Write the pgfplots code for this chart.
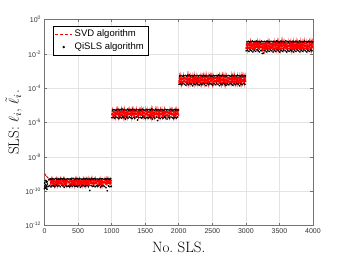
\documentclass[border=0pt]{standalone}
\usepackage{pgfplots}
\pgfplotsset{compat=1.18}
\usepackage{fontspec}
\newfontfamily\arial{Liberation Sans}
\definecolor{axgray}{gray}{0.45}
\begin{document}
\begin{tikzpicture}
\begin{axis}[
  scale only axis, width=268.5pt, height=206pt,
  ymode=log, xmin=0, xmax=4000, ymin=1e-12, ymax=1,
  xtick={0,500,1000,1500,2000,2500,3000,3500,4000},
  xticklabels={0,500,1000,1500,2000,2500,3000,3500,4000},
  ytick={1e-12,1e-10,1e-8,1e-6,1e-4,1e-2,1},
  yticklabels={10\textsuperscript{-12},10\textsuperscript{-10},10\textsuperscript{-8},10\textsuperscript{-6},10\textsuperscript{-4},10\textsuperscript{-2},10\textsuperscript{0}},
  minor y tick num=0, yminorticks=false,
  tick label style={font=\arial\fontsize{7}{8}\selectfont, text=black!80},
  grid=major, major grid style={gray!22, line width=0.5pt},
  axis line style={axgray, line width=0.6pt},
  tick style={axgray, line width=0.5pt}, tick align=inside, major tick length=2.5pt,
  xlabel={No.\ SLS.}, ylabel={SLS: $\ell_i$, $\tilde{\ell}_i$.},
  label style={font=\fontsize{15}{18}\selectfont},
  xlabel style={at={(axis description cs:0.5,-0.108)}, anchor=center},
  ylabel style={at={(axis description cs:-0.115,0.5)}, anchor=center},
  legend style={at={(0.03,0.97)}, anchor=north west, font=\arial\fontsize{9.5}{11}\selectfont, draw=black, line width=0.5pt, inner sep=2pt, row sep=0.5pt},
  legend cell align=left,
]
\addlegendimage{red, densely dashed, line width=0.8pt}
\addlegendentry{SVD algorithm}
\addlegendimage{black, only marks, mark=*, mark size=0.9pt}
\addlegendentry{QiSLS algorithm}
% QiSLS (black dots)
\addplot[black, only marks, mark=*, mark size=0.65pt, forget plot] table {
0 1.4e-10
2 3.0e-10
8 1.6e-10
12 4.2e-10
18 2.4e-10
22 1.5e-10
28 3.3e-10
32 2.0e-10
38 1.3e-10
42 3.6e-10
5 2.0e-10
15 1.7e-10
25 3.9e-10
35 1.8e-10
45 2.6e-10
55 1.9e-10
65 4.6e-10
75 2.1e-10
85 5.2e-10
95 1.8e-10
105 5.0e-10
115 2.1e-10
125 5.3e-10
135 2.0e-10
145 4.9e-10
155 1.8e-10
165 5.4e-10
175 2.2e-10
185 5.0e-10
195 1.9e-10
205 5.2e-10
215 2.1e-10
225 4.9e-10
235 1.8e-10
245 5.5e-10
255 2.2e-10
265 5.1e-10
275 2.0e-10
285 5.4e-10
295 1.7e-10
305 5.0e-10
315 2.1e-10
325 4.9e-10
335 1.9e-10
345 5.3e-10
355 2.0e-10
365 5.0e-10
375 1.8e-10
385 5.2e-10
395 2.1e-10
405 5.1e-10
415 1.9e-10
425 5.6e-10
435 2.2e-10
445 4.9e-10
455 1.9e-10
465 5.2e-10
475 2.0e-10
485 5.4e-10
495 1.8e-10
505 5.0e-10
515 2.1e-10
525 5.5e-10
535 1.7e-10
545 5.1e-10
555 2.0e-10
565 4.9e-10
575 2.2e-10
585 5.3e-10
595 1.9e-10
605 5.1e-10
615 2.0e-10
625 5.4e-10
635 2.1e-10
645 5.0e-10
655 1.8e-10
665 5.2e-10
675 1.1e-10
685 4.9e-10
695 2.1e-10
705 5.3e-10
715 1.9e-10
725 5.1e-10
735 2.0e-10
745 5.5e-10
755 1.8e-10
765 5.0e-10
775 2.1e-10
785 5.2e-10
795 1.9e-10
805 4.9e-10
815 2.2e-10
825 5.4e-10
835 1.7e-10
845 5.1e-10
855 2.0e-10
865 5.3e-10
875 2.1e-10
885 4.9e-10
895 1.9e-10
905 5.2e-10
915 1.6e-10
925 5.0e-10
935 1.05e-10
945 5.4e-10
955 2.0e-10
965 5.0e-10
975 1.8e-10
985 5.3e-10
995 1.9e-10
};
\addplot[black, only marks, mark=*, mark size=0.65pt, forget plot] table {
1005 1.9e-6
1015 5.3e-6
1025 2.0e-6
1035 5.6e-6
1045 1.8e-6
1055 5.2e-6
1065 2.1e-6
1075 5.5e-6
1085 1.9e-6
1095 5.8e-6
1105 1.7e-6
1115 5.3e-6
1125 2.0e-6
1135 5.6e-6
1145 1.8e-6
1155 6.1e-6
1165 2.1e-6
1175 5.4e-6
1185 1.9e-6
1195 5.7e-6
1205 1.6e-6
1215 5.2e-6
1225 2.0e-6
1235 5.9e-6
1245 1.8e-6
1255 5.4e-6
1265 2.1e-6
1275 5.6e-6
1285 1.9e-6
1295 5.3e-6
1305 1.7e-6
1315 5.8e-6
1325 2.0e-6
1335 5.5e-6
1345 1.8e-6
1355 5.2e-6
1365 2.1e-6
1375 5.7e-6
1385 1.4e-6
1395 5.4e-6
1405 1.9e-6
1415 5.6e-6
1425 2.0e-6
1435 5.3e-6
1445 1.8e-6
1455 5.9e-6
1465 2.1e-6
1475 5.5e-6
1485 1.9e-6
1495 5.2e-6
1505 1.7e-6
1515 5.7e-6
1525 2.0e-6
1535 5.4e-6
1545 1.8e-6
1555 5.6e-6
1565 2.1e-6
1575 5.3e-6
1585 1.9e-6
1595 6.0e-6
1605 1.6e-6
1615 5.5e-6
1625 2.0e-6
1635 5.2e-6
1645 1.8e-6
1655 5.8e-6
1665 2.1e-6
1675 5.4e-6
1685 1.3e-6
1695 5.6e-6
1705 1.9e-6
1715 5.3e-6
1725 1.7e-6
1735 5.7e-6
1745 2.0e-6
1755 5.5e-6
1765 1.8e-6
1775 5.2e-6
1785 2.1e-6
1795 5.9e-6
1805 1.9e-6
1815 5.4e-6
1825 1.6e-6
1835 5.6e-6
1845 2.0e-6
1855 5.3e-6
1865 1.8e-6
1875 5.8e-6
1885 2.1e-6
1895 5.5e-6
1905 1.9e-6
1915 5.2e-6
1925 1.7e-6
1935 5.7e-6
1945 2.0e-6
1955 5.4e-6
1965 1.8e-6
1975 5.6e-6
1985 2.1e-6
1995 5.3e-6
};
\addplot[black, only marks, mark=*, mark size=0.65pt, forget plot] table {
2005 1.7e-4
2015 5.1e-4
2025 1.8e-4
2035 5.4e-4
2045 1.6e-4
2055 5.0e-4
2065 1.9e-4
2075 5.3e-4
2085 1.7e-4
2095 5.6e-4
2105 1.5e-4
2115 5.1e-4
2125 1.8e-4
2135 5.4e-4
2145 1.6e-4
2155 5.8e-4
2165 1.9e-4
2175 5.2e-4
2185 1.7e-4
2195 5.5e-4
2205 1.4e-4
2215 5.0e-4
2225 1.8e-4
2235 5.7e-4
2245 1.6e-4
2255 5.2e-4
2265 1.9e-4
2275 5.4e-4
2285 1.7e-4
2295 5.1e-4
2305 1.5e-4
2315 5.6e-4
2325 1.8e-4
2335 5.3e-4
2345 1.6e-4
2355 5.0e-4
2365 1.9e-4
2375 5.5e-4
2385 1.7e-4
2395 5.2e-4
2405 1.4e-4
2415 5.4e-4
2425 1.8e-4
2435 5.1e-4
2445 1.6e-4
2455 5.7e-4
2465 1.9e-4
2475 5.3e-4
2485 1.7e-4
2495 5.0e-4
2505 1.5e-4
2515 5.5e-4
2525 1.8e-4
2535 5.2e-4
2545 1.6e-4
2555 5.4e-4
2565 1.9e-4
2575 5.1e-4
2585 1.7e-4
2595 5.8e-4
2605 1.4e-4
2615 5.3e-4
2625 1.8e-4
2635 5.0e-4
2645 1.6e-4
2655 5.6e-4
2665 1.9e-4
2675 5.2e-4
2685 1.7e-4
2695 5.4e-4
2705 1.5e-4
2715 5.1e-4
2725 1.8e-4
2735 5.5e-4
2745 1.6e-4
2755 5.3e-4
2765 1.9e-4
2775 5.0e-4
2785 1.7e-4
2795 5.7e-4
2805 1.5e-4
2815 5.2e-4
2825 1.8e-4
2835 5.4e-4
2845 1.6e-4
2855 5.1e-4
2865 1.9e-4
2875 5.6e-4
2885 1.7e-4
2895 5.3e-4
2905 1.4e-4
2915 5.0e-4
2925 1.8e-4
2935 5.5e-4
2945 1.6e-4
2955 5.2e-4
2965 1.9e-4
2975 5.4e-4
2985 1.7e-4
2995 5.1e-4
};
\addplot[black, only marks, mark=*, mark size=0.65pt, forget plot] table {
3005 1.5e-2
3015 5.0e-2
3025 1.6e-2
3035 5.3e-2
3045 1.4e-2
3055 4.9e-2
3065 1.7e-2
3075 5.2e-2
3085 1.5e-2
3095 5.5e-2
3105 1.3e-2
3115 5.0e-2
3125 1.6e-2
3135 5.3e-2
3145 1.4e-2
3155 5.6e-2
3165 1.7e-2
3175 5.1e-2
3185 1.5e-2
3195 5.4e-2
3205 1.3e-2
3215 4.9e-2
3225 1.6e-2
3235 5.5e-2
3245 1.05e-2
3255 5.1e-2
3265 1.1e-2
3275 5.3e-2
3285 1.5e-2
3295 5.0e-2
3305 1.3e-2
3315 5.5e-2
3325 1.6e-2
3335 5.2e-2
3345 1.4e-2
3355 4.9e-2
3365 1.7e-2
3375 5.4e-2
3385 1.5e-2
3395 5.1e-2
3405 1.3e-2
3415 5.3e-2
3425 1.6e-2
3435 5.0e-2
3445 1.4e-2
3455 5.6e-2
3465 1.7e-2
3475 5.2e-2
3485 1.5e-2
3495 4.9e-2
3505 1.3e-2
3515 5.4e-2
3525 1.6e-2
3535 5.1e-2
3545 1.4e-2
3555 5.3e-2
3565 1.7e-2
3575 5.0e-2
3585 1.5e-2
3595 5.7e-2
3605 1.3e-2
3615 5.2e-2
3625 1.6e-2
3635 4.9e-2
3645 1.4e-2
3655 5.5e-2
3665 1.7e-2
3675 5.1e-2
3685 1.5e-2
3695 5.3e-2
3705 1.3e-2
3715 5.0e-2
3725 1.6e-2
3735 5.4e-2
3745 1.4e-2
3755 5.2e-2
3765 1.7e-2
3775 4.9e-2
3785 1.5e-2
3795 5.6e-2
3805 1.3e-2
3815 5.1e-2
3825 1.6e-2
3835 5.3e-2
3845 1.4e-2
3855 5.0e-2
3865 1.7e-2
3875 5.5e-2
3885 1.5e-2
3895 5.2e-2
3905 1.3e-2
3915 4.9e-2
3925 1.6e-2
3935 5.4e-2
3945 1.4e-2
3955 5.1e-2
3965 1.7e-2
3975 5.3e-2
3985 1.5e-2
3995 5.0e-2
};
% SVD (red dashed)
\addplot[red, dash pattern=on 2.5pt off 0.8pt, line width=1.1pt, forget plot] table {
0 1.05e-9
10 9.4e-10
20 8.2e-10
30 7.4e-10
40 6.6e-10
50 6.0e-10
60 5.4e-10
70 5.0e-10
80 4.6e-10
90 3.0e-10
100 4.8e-10
110 2.4e-10
120 4.5e-10
130 2.7e-10
140 4.6e-10
150 2.3e-10
160 4.3e-10
170 2.6e-10
180 4.7e-10
190 2.4e-10
200 4.6e-10
210 2.8e-10
220 4.2e-10
230 2.3e-10
240 4.6e-10
250 2.5e-10
260 4.4e-10
270 2.7e-10
280 4.7e-10
290 2.3e-10
300 4.5e-10
310 2.6e-10
320 4.1e-10
330 2.4e-10
340 4.6e-10
350 2.8e-10
360 4.3e-10
370 2.3e-10
380 4.7e-10
390 2.5e-10
400 4.4e-10
410 2.3e-10
420 4.7e-10
430 2.7e-10
440 4.2e-10
450 2.3e-10
460 4.6e-10
470 2.6e-10
480 4.7e-10
490 2.4e-10
500 4.3e-10
510 2.8e-10
520 4.6e-10
530 2.3e-10
540 4.5e-10
550 2.5e-10
560 4.1e-10
570 2.3e-10
580 4.7e-10
590 2.7e-10
600 4.4e-10
610 2.3e-10
620 4.7e-10
630 2.6e-10
640 4.3e-10
650 2.4e-10
660 4.6e-10
670 2.0e-10
680 4.2e-10
690 2.5e-10
700 4.7e-10
710 2.3e-10
720 4.5e-10
730 2.7e-10
740 4.1e-10
750 2.3e-10
760 4.6e-10
770 2.6e-10
780 4.4e-10
790 2.4e-10
800 4.7e-10
810 2.8e-10
820 4.3e-10
830 2.3e-10
840 4.7e-10
850 2.5e-10
860 4.6e-10
870 2.3e-10
880 4.2e-10
890 2.7e-10
900 4.7e-10
910 2.3e-10
920 4.4e-10
930 2.1e-10
940 4.5e-10
950 2.6e-10
960 4.6e-10
970 2.4e-10
980 4.3e-10
990 2.7e-10
1000 4.6e-10
};
\addplot[red, dash pattern=on 2.5pt off 0.8pt, line width=1.1pt, forget plot] table {
1000 2.6e-6
1010 4.8e-6
1020 2.3e-6
1030 5.0e-6
1040 2.5e-6
1050 4.6e-6
1060 2.2e-6
1070 4.9e-6
1080 2.6e-6
1090 5.1e-6
1100 2.3e-6
1110 4.7e-6
1120 2.4e-6
1130 5.0e-6
1140 2.2e-6
1150 5.2e-6
1160 2.6e-6
1170 4.8e-6
1180 2.3e-6
1190 5.0e-6
1200 2.1e-6
1210 4.6e-6
1220 2.5e-6
1230 5.1e-6
1240 2.3e-6
1250 4.8e-6
1260 2.6e-6
1270 5.0e-6
1280 2.4e-6
1290 4.7e-6
1300 2.2e-6
1310 5.1e-6
1320 2.5e-6
1330 4.9e-6
1340 2.3e-6
1350 4.6e-6
1360 2.6e-6
1370 5.0e-6
1380 1.8e-6
1390 4.8e-6
1400 2.4e-6
1410 5.0e-6
1420 2.5e-6
1430 4.7e-6
1440 2.3e-6
1450 5.2e-6
1460 2.6e-6
1470 4.9e-6
1480 2.4e-6
1490 4.6e-6
1500 2.2e-6
1510 5.0e-6
1520 2.5e-6
1530 4.8e-6
1540 2.3e-6
1550 5.0e-6
1560 2.6e-6
1570 4.7e-6
1580 2.4e-6
1590 5.2e-6
1600 2.1e-6
1610 4.9e-6
1620 2.5e-6
1630 4.6e-6
1640 2.3e-6
1650 5.1e-6
1660 2.6e-6
1670 4.8e-6
1680 1.9e-6
1690 5.0e-6
1700 2.4e-6
1710 4.7e-6
1720 2.2e-6
1730 5.0e-6
1740 2.5e-6
1750 4.9e-6
1760 2.3e-6
1770 4.6e-6
1780 2.6e-6
1790 5.2e-6
1800 2.4e-6
1810 4.8e-6
1820 2.1e-6
1830 5.0e-6
1840 2.5e-6
1850 4.7e-6
1860 2.3e-6
1870 5.1e-6
1880 2.6e-6
1890 4.9e-6
1900 2.4e-6
1910 4.6e-6
1920 2.2e-6
1930 5.0e-6
1940 2.5e-6
1950 4.8e-6
1960 2.3e-6
1970 5.0e-6
1980 2.6e-6
1990 4.7e-6
2000 2.4e-6
};
\addplot[red, dash pattern=on 2.5pt off 0.8pt, line width=1.1pt, forget plot] table {
2000 2.1e-4
2010 4.5e-4
2020 2.2e-4
2030 4.8e-4
2040 2.0e-4
2050 4.4e-4
2060 2.3e-4
2070 4.7e-4
2080 2.1e-4
2090 4.9e-4
2100 1.9e-4
2110 4.5e-4
2120 2.2e-4
2130 4.8e-4
2140 2.0e-4
2150 5.0e-4
2160 2.3e-4
2170 4.6e-4
2180 2.1e-4
2190 4.8e-4
2200 1.8e-4
2210 4.4e-4
2220 2.2e-4
2230 4.9e-4
2240 2.0e-4
2250 4.6e-4
2260 2.3e-4
2270 4.8e-4
2280 2.1e-4
2290 4.5e-4
2300 1.9e-4
2310 4.9e-4
2320 2.2e-4
2330 4.7e-4
2340 2.0e-4
2350 4.4e-4
2360 2.3e-4
2370 4.8e-4
2380 2.1e-4
2390 4.6e-4
2400 1.8e-4
2410 4.8e-4
2420 2.2e-4
2430 4.5e-4
2440 2.0e-4
2450 4.9e-4
2460 2.3e-4
2470 4.7e-4
2480 2.1e-4
2490 4.4e-4
2500 1.9e-4
2510 4.8e-4
2520 2.2e-4
2530 4.6e-4
2540 2.0e-4
2550 4.8e-4
2560 2.3e-4
2570 4.5e-4
2580 2.1e-4
2590 5.0e-4
2600 1.8e-4
2610 4.7e-4
2620 2.2e-4
2630 4.4e-4
2640 2.0e-4
2650 4.9e-4
2660 2.3e-4
2670 4.6e-4
2680 2.1e-4
2690 4.8e-4
2700 1.9e-4
2710 4.5e-4
2720 2.2e-4
2730 4.8e-4
2740 2.0e-4
2750 4.7e-4
2760 2.3e-4
2770 4.4e-4
2780 2.1e-4
2790 4.9e-4
2800 1.9e-4
2810 4.6e-4
2820 2.2e-4
2830 4.8e-4
2840 2.0e-4
2850 4.5e-4
2860 2.3e-4
2870 4.9e-4
2880 2.1e-4
2890 4.7e-4
2900 1.8e-4
2910 4.4e-4
2920 2.2e-4
2930 4.8e-4
2940 2.0e-4
2950 4.6e-4
2960 2.3e-4
2970 4.8e-4
2980 2.1e-4
2990 4.5e-4
3000 2.2e-4
};
\addplot[red, dash pattern=on 2.5pt off 0.8pt, line width=1.1pt, forget plot] table {
3000 1.9e-2
3010 4.4e-2
3020 2.0e-2
3030 4.7e-2
3040 1.8e-2
3050 4.3e-2
3060 2.1e-2
3070 4.6e-2
3080 1.9e-2
3090 4.8e-2
3100 1.7e-2
3110 4.4e-2
3120 2.0e-2
3130 4.7e-2
3140 1.8e-2
3150 4.9e-2
3160 2.1e-2
3170 4.5e-2
3180 1.9e-2
3190 4.7e-2
3200 1.7e-2
3210 4.3e-2
3220 2.0e-2
3230 4.8e-2
3240 1.3e-2
3250 4.5e-2
3260 1.4e-2
3270 4.7e-2
3280 1.9e-2
3290 4.4e-2
3300 1.7e-2
3310 4.8e-2
3320 2.0e-2
3330 4.6e-2
3340 1.8e-2
3350 4.3e-2
3360 2.1e-2
3370 4.7e-2
3380 1.9e-2
3390 4.5e-2
3400 1.7e-2
3410 4.7e-2
3420 2.0e-2
3430 4.4e-2
3440 1.8e-2
3450 4.9e-2
3460 2.1e-2
3470 4.6e-2
3480 1.9e-2
3490 4.3e-2
3500 1.7e-2
3510 4.7e-2
3520 2.0e-2
3530 4.5e-2
3540 1.8e-2
3550 4.7e-2
3560 2.1e-2
3570 4.4e-2
3580 1.9e-2
3590 4.9e-2
3600 1.7e-2
3610 4.6e-2
3620 2.0e-2
3630 4.3e-2
3640 1.8e-2
3650 4.8e-2
3660 2.1e-2
3670 4.5e-2
3680 1.9e-2
3690 4.7e-2
3700 1.7e-2
3710 4.4e-2
3720 2.0e-2
3730 4.7e-2
3740 1.8e-2
3750 4.6e-2
3760 2.1e-2
3770 4.3e-2
3780 1.9e-2
3790 4.8e-2
3800 1.7e-2
3810 4.5e-2
3820 2.0e-2
3830 4.7e-2
3840 1.8e-2
3850 4.4e-2
3860 2.1e-2
3870 4.8e-2
3880 1.9e-2
3890 4.6e-2
3900 1.7e-2
3910 4.3e-2
3920 2.0e-2
3930 4.7e-2
3940 1.8e-2
3950 4.5e-2
3960 2.1e-2
3970 4.7e-2
3980 1.9e-2
3990 4.4e-2
4000 2.0e-2
};
\end{axis}
\pgfresetboundingbox
\path (-44.5pt,-34.3pt) rectangle (301.5pt,225.5pt);
\end{tikzpicture}
\end{document}
